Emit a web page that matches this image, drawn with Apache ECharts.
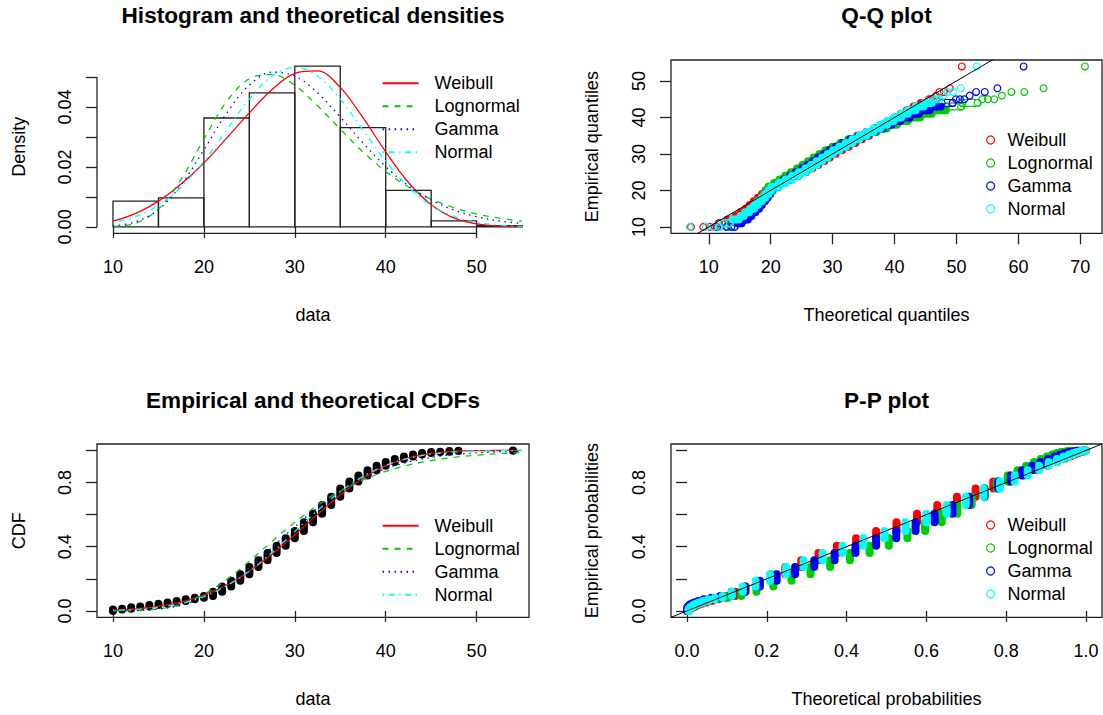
<!DOCTYPE html>
<html><head><meta charset="utf-8">
<script src="https://cdn.jsdelivr.net/npm/echarts@6/dist/echarts.min.js"></script>
<style>html,body{margin:0;padding:0;background:#fff}#c{width:1103px;height:715px}</style>
</head><body><div id="c"></div>
<script>
// ---------------- data ----------------
const distNames = ['Weibull', 'Lognormal', 'Gamma', 'Normal'];
const distColors = ['#FF0000', '#00CD00', '#0000FF', '#00FFFF'];
const distDash = ['solid', [6, 6], [1.5, 4.5], [1.5, 4.5, 6, 4.5]];

// Histogram (panel 1)
const histBreaks = [10, 15, 20, 25, 30, 35, 40, 45, 50, 55];
const histDensity = [0.0086, 0.0097, 0.0363, 0.0447, 0.0536, 0.0331, 0.0122, 0.0020, 0.0004];

// Theoretical densities read at these x values
const densX = [10, 12.5, 15, 17.5, 20, 22.5, 25, 27.5, 30, 32.5, 35, 37.5, 40, 42.5, 45, 47.5, 50, 52.5, 55];
const densWeibull = [0.0019, 0.0045, 0.0086, 0.0143, 0.0213, 0.0296, 0.0380, 0.0458, 0.0512, 0.0520, 0.0465, 0.0364, 0.0250, 0.0148, 0.0074, 0.0030, 0.0010, 0.0003, 0.0001];
const densLognormal = [0.0001, 0.0012, 0.0059, 0.0159, 0.0293, 0.0418, 0.0494, 0.0508, 0.0472, 0.0404, 0.0326, 0.0250, 0.0185, 0.0133, 0.0093, 0.0064, 0.0043, 0.0029, 0.0019];
const densGamma = [0.0003, 0.0017, 0.0058, 0.0140, 0.0257, 0.0379, 0.0473, 0.0516, 0.0503, 0.0447, 0.0366, 0.0280, 0.0201, 0.0137, 0.0090, 0.0056, 0.0034, 0.0020, 0.0011];
const densNormal = [0.0015, 0.0035, 0.0072, 0.0133, 0.0219, 0.0323, 0.0426, 0.0503, 0.0532, 0.0503, 0.0426, 0.0323, 0.0219, 0.0133, 0.0072, 0.0035, 0.0015, 0.0006, 0.0002];

// Empirical CDF at each observed value (panel 3, panel 4)
const ecdfX = [10, 11, 12, 13, 14, 15, 16, 17, 18, 19, 20, 21, 22, 23, 24, 25, 26, 27, 28, 29, 30, 31, 32, 33, 34, 35, 36, 37, 38, 39, 40, 41, 42, 43, 44, 45, 46, 47, 48, 54];
const ecdfY = [0.008, 0.014, 0.022, 0.028, 0.036, 0.044, 0.052, 0.062, 0.072, 0.082, 0.092, 0.120, 0.152, 0.188, 0.228, 0.274, 0.316, 0.360, 0.406, 0.452, 0.498, 0.552, 0.606, 0.660, 0.712, 0.762, 0.806, 0.844, 0.876, 0.904, 0.928, 0.946, 0.962, 0.974, 0.984, 0.990, 0.992, 0.996, 0.998, 1.000];

// Theoretical CDFs at integer x (panel 3 curves, panel 4 x positions)
const cdfX = [10, 11, 12, 13, 14, 15, 16, 17, 18, 19, 20, 21, 22, 23, 24, 25, 26, 27, 28, 29, 30, 31, 32, 33, 34, 35, 36, 37, 38, 39, 40, 41, 42, 43, 44, 45, 46, 47, 48, 49, 50, 51, 52, 53, 54, 55];
const cdfWeibull = [0.0046, 0.0070, 0.0103, 0.0148, 0.0206, 0.0280, 0.0373, 0.0487, 0.0625, 0.0789, 0.0984, 0.1211, 0.1471, 0.1767, 0.2098, 0.2464, 0.2864, 0.3296, 0.3756, 0.4240, 0.4740, 0.5251, 0.5764, 0.6272, 0.6766, 0.7234, 0.7676, 0.8081, 0.8446, 0.8767, 0.9042, 0.9273, 0.9461, 0.9611, 0.9727, 0.9814, 0.9877, 0.9921, 0.9951, 0.9971, 0.9983, 0.9991, 0.9995, 0.9998, 0.9999, 1.0000];
const cdfLognormal = [0.0001, 0.0004, 0.0012, 0.0030, 0.0063, 0.0120, 0.0209, 0.0339, 0.0516, 0.0745, 0.1026, 0.1361, 0.1741, 0.2164, 0.2619, 0.3096, 0.3588, 0.4084, 0.4577, 0.5059, 0.5524, 0.5967, 0.6384, 0.6774, 0.7134, 0.7464, 0.7765, 0.8037, 0.8282, 0.8500, 0.8694, 0.8867, 0.9018, 0.9151, 0.9268, 0.9370, 0.9458, 0.9535, 0.9601, 0.9659, 0.9708, 0.9751, 0.9787, 0.9819, 0.9846, 0.9868];
const cdfGamma = [0.0003, 0.0007, 0.0017, 0.0034, 0.0063, 0.0110, 0.0182, 0.0284, 0.0424, 0.0608, 0.0838, 0.1120, 0.1450, 0.1827, 0.2248, 0.2709, 0.3190, 0.3699, 0.4221, 0.4740, 0.5244, 0.5729, 0.6203, 0.6651, 0.7068, 0.7451, 0.7801, 0.8114, 0.8396, 0.8644, 0.8860, 0.9048, 0.9209, 0.9347, 0.9464, 0.9561, 0.9644, 0.9711, 0.9768, 0.9814, 0.9852, 0.9882, 0.9906, 0.9926, 0.9942, 0.9955];
const cdfNormal = [0.0037, 0.0054, 0.0079, 0.0113, 0.0159, 0.0221, 0.0301, 0.0403, 0.0534, 0.0694, 0.0890, 0.1126, 0.1401, 0.1719, 0.2081, 0.2483, 0.2922, 0.3398, 0.3897, 0.4416, 0.4948, 0.5478, 0.5999, 0.6506, 0.6985, 0.7431, 0.7843, 0.8212, 0.8538, 0.8824, 0.9066, 0.9269, 0.9437, 0.9573, 0.9681, 0.9765, 0.9830, 0.9879, 0.9915, 0.9941, 0.9960, 0.9973, 0.9982, 0.9989, 0.9993, 0.9996];

// Q-Q plot: empirical level, number of points in the run, and [first, last] theoretical quantile
const qqLevels = [10, 10, 10, 10, 11, 12, 13, 14, 15, 16, 17, 18, 19, 20, 21, 22, 23, 24, 25, 26, 27, 28, 29, 30, 31, 32, 33, 34, 35, 36, 37, 38, 39, 40, 41, 42, 43, 44, 45, 45, 45, 46, 47, 47, 48, 54];
const qqCounts = [1, 1, 1, 1, 3, 4, 3, 4, 4, 4, 5, 5, 5, 5, 14, 16, 18, 20, 23, 21, 22, 23, 23, 23, 27, 27, 27, 26, 25, 22, 19, 16, 14, 12, 9, 8, 6, 5, 1, 1, 1, 1, 1, 1, 1, 1];
const qqWeibull = [[7.13,7.13],[9.11,9.11],[10.20,10.20],[11.00,11.00],[11.63,12.63],[13.04,14.06],[14.35,14.88],[15.12,15.78],[15.97,16.62],[16.62,17.26],[17.26,17.97],[17.97,18.60],[18.60,19.17],[19.17,19.69],[19.69,20.96],[20.96,22.17],[22.17,23.36],[23.36,24.51],[24.51,25.70],[25.70,26.70],[26.70,27.67],[27.67,28.64],[28.64,29.56],[29.56,30.47],[30.47,31.52],[31.52,32.58],[32.58,33.66],[33.66,34.75],[34.75,35.87],[35.87,36.95],[36.95,37.99],[37.99,38.98],[38.98,40.00],[40.00,41.04],[41.04,41.99],[41.99,43.07],[43.07,44.14],[44.24,45.23],[45.53,45.53],[45.87,45.87],[46.26,46.26],[46.71,46.71],[47.25,47.25],[47.95,47.95],[48.94,48.94],[50.86,50.86]];
const qqLognormal = [[11.79,11.79],[13.02,13.02],[13.68,13.68],[14.16,14.16],[14.54,15.14],[15.39,16.01],[16.19,16.52],[16.66,17.07],[17.20,17.61],[17.61,18.02],[18.02,18.49],[18.49,18.90],[18.90,19.29],[19.29,19.64],[19.64,20.54],[20.54,21.43],[21.43,22.34],[22.34,23.26],[23.26,24.26],[24.26,25.13],[25.13,26.03],[26.03,26.95],[26.95,27.88],[27.88,28.84],[28.84,29.99],[29.99,31.22],[31.22,32.54],[32.54,33.96],[33.96,35.50],[35.50,37.09],[37.09,38.71],[38.71,40.37],[40.37,42.16],[42.16,44.11],[44.11,46.01],[46.01,48.30],[48.30,50.72],[50.97,53.39],[54.17,54.17],[55.08,55.08],[56.09,56.09],[57.34,57.34],[58.87,58.87],[60.95,60.95],[64.06,64.06],[70.75,70.75]];
const qqGamma = [[11.36,11.36],[12.84,12.84],[13.62,13.62],[14.18,14.18],[14.63,15.32],[15.61,16.31],[16.52,16.88],[17.05,17.51],[17.64,18.10],[18.10,18.55],[18.55,19.06],[19.06,19.51],[19.51,19.93],[19.93,20.31],[20.31,21.26],[21.26,22.19],[22.19,23.13],[23.13,24.07],[24.07,25.07],[25.07,25.93],[25.93,26.81],[26.81,27.70],[27.70,28.59],[28.59,29.48],[29.48,30.55],[30.55,31.67],[31.67,32.86],[32.86,34.11],[34.11,35.44],[35.44,36.79],[36.79,38.14],[38.14,39.49],[39.49,40.93],[40.93,42.47],[42.47,43.94],[43.94,45.66],[45.66,47.45],[47.63,49.37],[49.92,49.92],[50.55,50.55],[51.27,51.27],[52.13,52.13],[53.17,53.17],[54.56,54.56],[56.61,56.61],[60.84,60.84]];
const qqNormal = [[6.93,6.93],[9.49,9.49],[10.78,10.78],[11.67,11.67],[12.36,13.40],[13.83,14.85],[15.14,15.65],[15.88,16.51],[16.70,17.31],[17.31,17.90],[17.90,18.57],[18.57,19.14],[19.14,19.66],[19.66,20.13],[20.13,21.29],[21.29,22.39],[22.39,23.46],[23.46,24.51],[24.51,25.59],[25.59,26.51],[26.51,27.42],[27.42,28.32],[28.32,29.20],[29.20,30.06],[30.06,31.08],[31.08,32.12],[32.12,33.19],[33.19,34.29],[34.29,35.45],[35.45,36.57],[36.57,37.68],[37.68,38.76],[38.76,39.89],[39.89,41.06],[41.06,42.15],[42.15,43.41],[43.41,44.67],[44.80,46.00],[46.38,46.38],[46.80,46.80],[47.28,47.28],[47.85,47.85],[48.53,48.53],[49.42,49.42],[50.71,50.71],[53.28,53.28]];

// Axis ranges and ticks
const histXRange = [8.24, 55.76], histYRange = [-0.00214, 0.05564];
const qqXRange = [3.9, 73.5], qqYRange = [8.24, 55.76];
const cdfXRange = [8.24, 55.76], cdfYRange = [-0.04, 1.04];
const ppXRange = [-0.04, 1.04], ppYRange = [-0.04, 1.04];
const dataTicks = [10, 20, 30, 40, 50];
const histYTicks = [0, 0.01, 0.02, 0.03, 0.04, 0.05];
const histYLabels = [0, 0.02, 0.04];
const qqXTicks = [10, 20, 30, 40, 50, 60, 70];
const qqYTicks = [10, 20, 30, 40, 50];
const probTicks = [0, 0.2, 0.4, 0.6, 0.8, 1.0];
const probYLabels = [0, 0.4, 0.8];

// ---------------- chart ----------------
const FONT = "'Liberation Sans', Arial, Helvetica, sans-serif";
const INK = '#222';
const chart = echarts.init(document.getElementById('c'), null, {renderer: 'svg'});

const grids = [
  {left: 97, top: 60, width: 432, height: 173.3, show: false},
  {left: 671, top: 60, width: 431, height: 173.3, show: true},
  {left: 97, top: 444, width: 432, height: 173.3, show: true},
  {left: 671, top: 444, width: 431, height: 173.3, show: true}
].map(g => Object.assign({borderColor: INK, borderWidth: 1.3, backgroundColor: 'transparent', containLabel: false, outerBoundsMode: 'none'}, g));

const txt = {fontSize: 18, color: '#000', fontFamily: FONT};
const f0 = v => String(v), f1 = v => Number(v).toFixed(1), f2 = v => Number(v).toFixed(2);

function xAx(gi, range, ticks, labels, name, fmt) {
  return {type: 'value', gridIndex: gi, min: range[0], max: range[1],
    axisLine: {show: false}, splitLine: {show: false},
    axisTick: {show: true, inside: false, length: 11, customValues: ticks, lineStyle: {color: INK, width: 1.3}},
    axisLabel: Object.assign({show: true, customValues: labels, margin: 25, formatter: fmt}, txt),
    name: name, nameLocation: 'middle', nameGap: 73, nameTextStyle: txt};
}
function yAx(gi, range, ticks, labels, name, fmt, gap) {
  return {type: 'value', gridIndex: gi, min: range[0], max: range[1],
    axisLine: {show: false}, splitLine: {show: false},
    axisTick: {show: true, inside: false, length: 11, customValues: ticks, lineStyle: {color: INK, width: 1.3}},
    axisLabel: Object.assign({show: true, customValues: labels, margin: 23, rotate: 90, formatter: fmt}, txt),
    name: name, nameLocation: 'middle', nameGap: gap, nameRotate: 90, nameTextStyle: txt};
}

// A run of tied observations: hollow circle for one point, chain outline for sparse runs, solid band for dense runs
function runShape(a, b, color, count) {
  const R = 4;
  const dx = Math.abs(b[0] - a[0]), dy = Math.abs(b[1] - a[1]);
  const span = Math.max(dx, dy);
  const solid = {type: 'rect', shape: {x: Math.min(a[0], b[0]) - R, y: Math.min(a[1], b[1]) - R, width: dx + 2 * R, height: dy + 2 * R, r: R},
    style: {fill: color}};
  if (count === 0) return solid;
  const r = R - 0.6;
  const ring = (p) => ({type: 'circle', shape: {cx: p[0], cy: p[1], r: r}, style: {fill: 'none', stroke: color, lineWidth: 1.2}});
  if (count === 1 || span < 0.8) return ring([(a[0] + b[0]) / 2, (a[1] + b[1]) / 2]);
  if (span / (count - 1) > 2.6) {
    return {type: 'group', children: [
      {type: 'rect', shape: {x: Math.min(a[0], b[0]) - r, y: Math.min(a[1], b[1]) - r, width: dx + 2 * r, height: dy + 2 * r, r: r},
        style: {fill: 'none', stroke: color, lineWidth: 1.2}},
      ring(a), ring(b)]};
  }
  return solid;
}

const series = [];
// Panel 1: histogram
series.push({type: 'custom', name: 'hist', xAxisIndex: 0, yAxisIndex: 0, silent: true,
  data: histDensity.map((d, i) => [histBreaks[i], histBreaks[i + 1], d]),
  encode: {x: [0, 1], y: 2},
  renderItem: (p, api) => {
    const a = api.coord([api.value(0), 0]);
    const b = api.coord([api.value(1), api.value(2)]);
    return {type: 'rect', shape: {x: a[0], y: b[1], width: b[0] - a[0], height: a[1] - b[1]},
      style: {fill: 'none', stroke: INK, lineWidth: 1.3}};
  }});
const densArr = [densWeibull, densLognormal, densGamma, densNormal];
distNames.forEach((nm, d) => series.push({type: 'line', name: nm, xAxisIndex: 0, yAxisIndex: 0, silent: true,
  data: densX.map((x, i) => [x, densArr[d][i]]), smooth: 0.35, symbol: 'none', showSymbol: false,
  itemStyle: {color: distColors[d]}, lineStyle: {color: distColors[d], width: 1.3, type: distDash[d]}}));

// Panel 2: Q-Q
const qqArr = [qqWeibull, qqLognormal, qqGamma, qqNormal];
distNames.forEach((nm, d) => series.push({type: 'custom', name: nm, xAxisIndex: 1, yAxisIndex: 1, silent: true, clip: true,
  itemStyle: {color: distColors[d]},
  data: qqLevels.map((y, i) => [qqArr[d][i][0], qqArr[d][i][1], y, qqCounts[i]]),
  encode: {x: [0, 1], y: 2},
  renderItem: (p, api) => runShape(api.coord([api.value(0), api.value(2)]), api.coord([api.value(1), api.value(2)]), distColors[d], api.value(3))}));
series.push({type: 'line', xAxisIndex: 1, yAxisIndex: 1, silent: true, symbol: 'none', clip: true,
  data: [[qqXRange[0], qqXRange[0]], [qqXRange[1], qqXRange[1]]], lineStyle: {color: '#000', width: 1}});

// Panel 3: empirical + theoretical CDFs
series.push({type: 'custom', name: 'ecdf', xAxisIndex: 2, yAxisIndex: 2, silent: true,
  data: ecdfX.map((x, i) => [x, i > 0 ? ecdfY[i - 1] : 0, ecdfY[i]]),
  encode: {x: 0, y: [1, 2]},
  renderItem: (p, api) => runShape(api.coord([api.value(0), api.value(1)]), api.coord([api.value(0), api.value(2)]), '#000', 0)});
const cdfArr = [cdfWeibull, cdfLognormal, cdfGamma, cdfNormal];
distNames.forEach((nm, d) => series.push({type: 'line', name: nm, xAxisIndex: 2, yAxisIndex: 2, silent: true,
  data: cdfX.map((x, i) => [x, cdfArr[d][i]]), symbol: 'none', showSymbol: false,
  itemStyle: {color: distColors[d]}, lineStyle: {color: distColors[d], width: 1.3, type: distDash[d]}}));

// Panel 4: P-P
distNames.forEach((nm, d) => series.push({type: 'custom', name: nm, xAxisIndex: 3, yAxisIndex: 3, silent: true, clip: true,
  itemStyle: {color: distColors[d]},
  data: ecdfX.map((k, i) => [cdfArr[d][cdfX.indexOf(k)], i > 0 ? ecdfY[i - 1] : 0, ecdfY[i]]),
  encode: {x: 0, y: [1, 2]},
  renderItem: (p, api) => runShape(api.coord([api.value(0), api.value(1)]), api.coord([api.value(0), api.value(2)]), distColors[d], 0)}));
series.push({type: 'line', xAxisIndex: 3, yAxisIndex: 3, silent: true, symbol: 'none', clip: true,
  data: [[ppXRange[0], ppXRange[0]], [ppXRange[1], ppXRange[1]]], lineStyle: {color: '#000', width: 1}});

function lineLegend(top) {
  return {orient: 'vertical', left: 381.6, top: top, padding: 0, itemWidth: 36, itemHeight: 14, itemGap: 5,
    selectedMode: false, data: distNames, itemStyle: {opacity: 0},
    textStyle: Object.assign({lineHeight: 18, padding: [0, 0, 0, 11]}, txt)};
}
function markLegend(top) {
  return {orient: 'vertical', left: 986, top: top, padding: 0, itemWidth: 8, itemHeight: 8, itemGap: 5,
    selectedMode: false,
    data: distNames.map((n, i) => ({name: n, icon: 'circle', itemStyle: {color: 'rgba(0,0,0,0)', borderColor: distColors[i], borderWidth: 1.2, opacity: 1}})),
    textStyle: Object.assign({lineHeight: 18, padding: [0, 0, 0, 8]}, txt)};
}
const titleStyle = {fontSize: 22.6, fontWeight: 'bold', color: '#000', fontFamily: FONT};

chart.setOption({
  animation: false,
  backgroundColor: '#fff',
  title: [
    {text: 'Histogram and theoretical densities', left: 313, top: 4, textAlign: 'center', padding: 0, textStyle: titleStyle},
    {text: 'Q-Q plot', left: 886.5, top: 4, textAlign: 'center', padding: 0, textStyle: titleStyle},
    {text: 'Empirical and theoretical CDFs', left: 313, top: 389, textAlign: 'center', padding: 0, textStyle: titleStyle},
    {text: 'P-P plot', left: 886.5, top: 389, textAlign: 'center', padding: 0, textStyle: titleStyle}
  ],
  grid: grids,
  xAxis: [
    xAx(0, histXRange, dataTicks, dataTicks, 'data', f0),
    xAx(1, qqXRange, qqXTicks, qqXTicks, 'Theoretical quantiles', f0),
    xAx(2, cdfXRange, dataTicks, dataTicks, 'data', f0),
    xAx(3, ppXRange, probTicks, probTicks, 'Theoretical probabilities', f1)
  ],
  yAxis: [
    yAx(0, histYRange, histYTicks, histYLabels, 'Density', f2, 69),
    yAx(1, qqYRange, qqYTicks, qqYTicks, 'Empirical quantiles', f0, 70),
    yAx(2, cdfYRange, probTicks, probYLabels, 'CDF', f1, 69),
    yAx(3, ppYRange, probTicks, probYLabels, 'Empirical probabilities', f1, 70)
  ],
  legend: [lineLegend(74.3), markLegend(131), lineLegend(516.7), markLegend(516)],
  series: series
});

// Panel 1 axis lines run only between the first and last tick (R style)
const fd = {xAxisIndex: 0, yAxisIndex: 0};
const xa = chart.convertToPixel(fd, [dataTicks[0], histYRange[0]]);
const xb = chart.convertToPixel(fd, [dataTicks[dataTicks.length - 1], histYRange[0]]);
const ya = chart.convertToPixel(fd, [histXRange[0], histYTicks[0]]);
const yb = chart.convertToPixel(fd, [histXRange[0], histYTicks[histYTicks.length - 1]]);
chart.setOption({graphic: [
  {type: 'line', shape: {x1: xa[0], y1: xa[1], x2: xb[0], y2: xb[1]}, style: {stroke: INK, lineWidth: 1.3}, silent: true},
  {type: 'line', shape: {x1: ya[0], y1: ya[1], x2: yb[0], y2: yb[1]}, style: {stroke: INK, lineWidth: 1.3}, silent: true}
]});
</script>
</body></html>
